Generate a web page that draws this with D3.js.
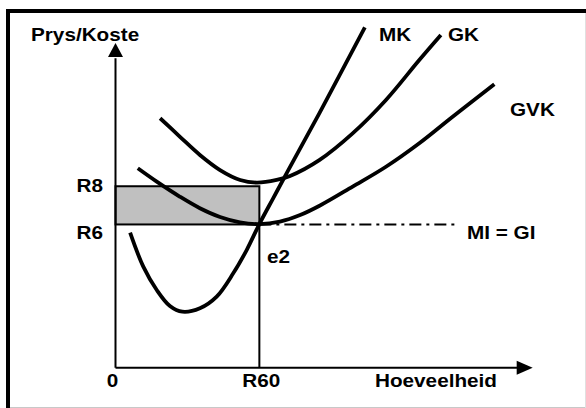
<!DOCTYPE html>
<html>
<head>
<meta charset="utf-8">
<script src="https://cdn.jsdelivr.net/npm/d3@7"></script>
<style>
    body { margin: 0; background: #fff; }
    text { font-family: "Liberation Sans", Arial, sans-serif; font-weight: bold; fill: #000; }
</style>
</head>
<body>
<div id="chart-area"></div>
<script>
// schematic cost curves: [quantity, price] in axis units
var mkCurve = [[6.1, 7.07], [11.6, 5.29], [17.2, 4.07], [22.7, 3.23], [27.9, 2.93], [35.2, 3.11],
               [42.2, 3.72], [49.1, 4.94], [54.7, 6.16], [60, 7.52], [65.8, 8.88], [71.9, 10.3],
               [85, 13.32], [104, 17.82]];
var gkCurve = [[18.6, 13.06], [26.9, 12.09], [35.2, 11.14], [43.6, 10.35], [52, 9.83], [58.9, 9.69],
               [67.2, 9.83], [72.8, 10.04], [85, 10.87], [98.9, 12.27], [112.8, 14.02], [126.7, 16.11],
               [135.7, 17.42]];
var gvkCurve = [[9.3, 10.44], [17.2, 9.74], [26.9, 8.95], [35.2, 8.35], [43.6, 7.89], [51.9, 7.61],
                [60, 7.52], [68.6, 7.65], [77, 7.99], [85.3, 8.49], [98.9, 9.48], [112.8, 10.52],
                [126.7, 11.75], [140.6, 13.14], [158, 14.84]];

var priceTicks = [7.5, 9.5];        // R6, R8
var priceLabels = ["R6", "R8"];
var qtyTicks = [0, 60];
var qtyLabels = ["0", "R60"];
var miPrice = 7.5;                  // MI = GI line
var miEnd = 142;

var curveNames = ["MK", "GK", "GVK"];

var width = 586, height = 408;

var svg = d3.select("#chart-area")
        .append("svg")
        .attr("width", width)
        .attr("height", height);

// frame
svg.append("line").attr("x1", 6).attr("x2", 586).attr("y1", 11).attr("y2", 11)
    .attr("stroke", "#000").attr("stroke-width", 4);
svg.append("line").attr("x1", 8).attr("x2", 8).attr("y1", 9).attr("y2", 408)
    .attr("stroke", "#000").attr("stroke-width", 4);
svg.append("line").attr("x1", 10).attr("x2", 586).attr("y1", 407.5).attr("y2", 407.5)
    .attr("stroke", "#c8c8c8").attr("stroke-width", 1);
svg.append("line").attr("x1", 585.5).attr("x2", 585.5).attr("y1", 13).attr("y2", 408)
    .attr("stroke", "#e0e0e0").attr("stroke-width", 1);

// scales
var x = d3.scaleLinear().domain([0, 174]).range([115.5, 532.7]);
var y = d3.scaleLinear().domain([0, 17]).range([367.7, 43]);

var line = d3.line()
        .x((d) => x(d[0]))
        .y((d) => y(d[1]))
        .curve(d3.curveCatmullRom.alpha(0.5));

// shaded profit/loss box between R6 and R8 up to R60
svg.append("rect")
    .attr("x", x(0))
    .attr("y", y(priceTicks[1]))
    .attr("width", x(qtyTicks[1]) - x(0))
    .attr("height", y(priceTicks[0]) - y(priceTicks[1]))
    .attr("fill", "#c0c0c0")
    .attr("stroke", "#000")
    .attr("stroke-width", 2);

// MI = GI dash-dot line
svg.append("line")
    .attr("x1", x(qtyTicks[1]))
    .attr("x2", x(miEnd))
    .attr("y1", y(miPrice))
    .attr("y2", y(miPrice))
    .attr("stroke", "#000")
    .attr("stroke-width", 2)
    .attr("stroke-dasharray", "12,5,3,5");

// R60 drop line
svg.append("line")
    .attr("x1", x(qtyTicks[1]))
    .attr("x2", x(qtyTicks[1]))
    .attr("y1", y(miPrice))
    .attr("y2", y(0))
    .attr("stroke", "#000")
    .attr("stroke-width", 2);

// axes with arrowheads
svg.append("line").attr("x1", x(0)).attr("x2", x(0)).attr("y1", y(0)).attr("y2", y(16.2))
    .attr("stroke", "#000").attr("stroke-width", 2);
svg.append("path")
    .attr("d", "M" + x(0) + "," + y(17) + "L" + (x(0) - 7.5) + "," + (y(17) + 14) + "L" + (x(0) + 7.5) + "," + (y(17) + 14) + "Z")
    .attr("fill", "#000");
svg.append("line").attr("x1", x(0)).attr("x2", x(168)).attr("y1", y(0)).attr("y2", y(0))
    .attr("stroke", "#000").attr("stroke-width", 2);
svg.append("path")
    .attr("d", "M" + x(174) + "," + y(0) + "L" + (x(174) - 16) + "," + (y(0) - 7) + "L" + (x(174) - 16) + "," + (y(0) + 7) + "Z")
    .attr("fill", "#000");

// cost curves
svg.selectAll(".cost-curve")
    .data([mkCurve, gkCurve, gvkCurve])
    .enter()
    .append("path")
    .attr("class", "cost-curve")
    .attr("d", line)
    .attr("fill", "none")
    .attr("stroke", "#000")
    .attr("stroke-width", 3.8);

// text labels (source font is a bit wide, so stretch horizontally)
function label(txt, lx, ly, anchor) {
    svg.append("text")
        .attr("transform", "translate(" + lx + "," + ly + ") scale(1.12,1)")
        .attr("text-anchor", anchor || "start")
        .attr("font-size", 18.5)
        .text(txt);
}

label("Prys/Koste", 31, 41);
label("Hoeveelheid", 375, 386.5);
label(curveNames[0], 379, 41);
label(curveNames[1], 448, 41);
label(curveNames[2], 510, 116);
label("MI = GI", 467, 239);
label("e2", 267, 263);
label(priceLabels[1], 103, 192, "end");
label(priceLabels[0], 103, 239, "end");
qtyTicks.forEach((q, i) => {
    label(qtyLabels[i], x(q) + (i == 0 ? -3 : 2), 387, "middle");
});
</script>
</body>
</html>
